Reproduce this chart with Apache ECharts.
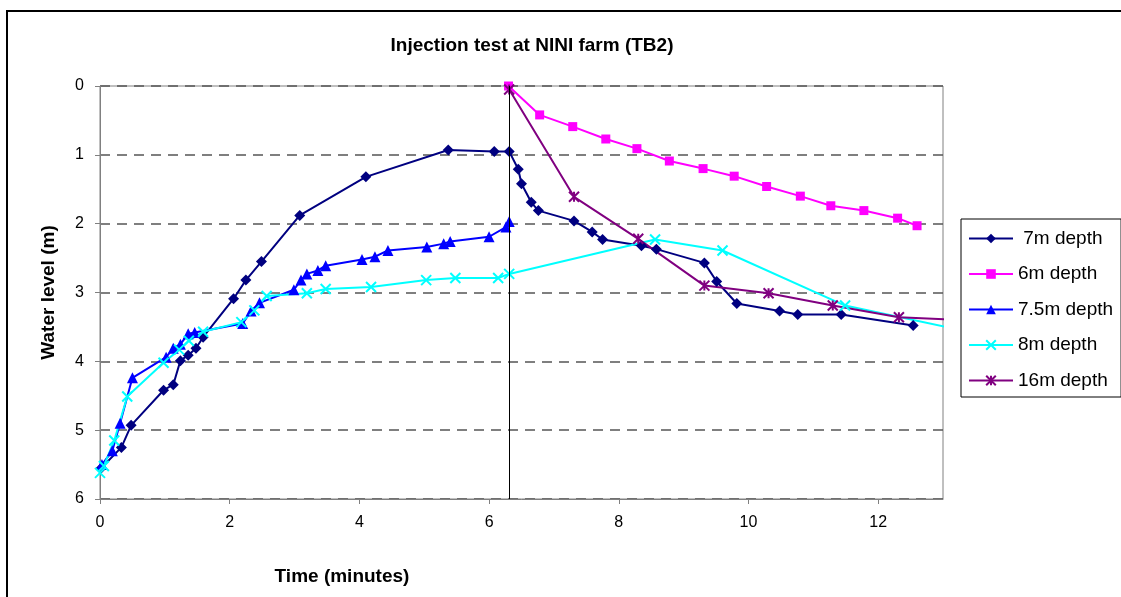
<!DOCTYPE html>
<html>
<head>
<meta charset="utf-8">
<script src="https://cdn.jsdelivr.net/npm/echarts@6/dist/echarts.min.js"></script>
<style>
  html, body { margin: 0; padding: 0; background: #fff; }
  #charts { width: 1121px; height: 597px; }
</style>
</head>
<body>
<div id="charts"></div>
<script>
// time (minutes) and water level (m) for each depth
var t7 = [0.02, 0.33, 0.48, 0.98, 1.13, 1.24, 1.36, 1.48, 1.59, 2.06, 2.25, 2.49, 3.08, 4.10, 5.37, 6.08, 6.31, 6.45, 6.50, 6.65, 6.76, 7.31, 7.59, 7.75, 8.35, 8.58, 9.32, 9.51, 9.82, 10.48, 10.76, 11.43, 12.54];
var v7 = [5.55, 5.25, 4.93, 4.42, 4.34, 3.99, 3.91, 3.81, 3.65, 3.09, 2.82, 2.55, 1.88, 1.32, 0.93, 0.95, 0.95, 1.21, 1.42, 1.69, 1.81, 1.96, 2.12, 2.23, 2.32, 2.37, 2.57, 2.84, 3.16, 3.27, 3.32, 3.32, 3.48];

var t6 = [6.30, 6.78, 7.29, 7.80, 8.28, 8.78, 9.30, 9.78, 10.28, 10.80, 11.27, 11.78, 12.30, 12.60];
var v6 = [0, 0.42, 0.59, 0.77, 0.91, 1.09, 1.20, 1.31, 1.46, 1.60, 1.74, 1.81, 1.92, 2.03];

var t75 = [0.03, 0.19, 0.31, 0.50, 1.02, 1.13, 1.24, 1.36, 1.46, 2.20, 2.33, 2.46, 2.99, 3.10, 3.19, 3.36, 3.48, 4.04, 4.24, 4.44, 5.04, 5.30, 5.40, 6.00, 6.26, 6.31];
var v75 = [5.50, 5.30, 4.90, 4.24, 3.94, 3.81, 3.75, 3.60, 3.58, 3.45, 3.27, 3.15, 2.96, 2.82, 2.73, 2.68, 2.61, 2.52, 2.48, 2.39, 2.34, 2.29, 2.26, 2.19, 2.05, 1.97];

var t8 = [0, 0.06, 0.22, 0.42, 0.98, 1.22, 1.37, 1.59, 2.18, 2.38, 2.57, 3.19, 3.48, 4.18, 5.03, 5.48, 6.14, 6.31, 8.56, 9.60, 11.49, 13.6];
var v8 = [5.62, 5.52, 5.15, 4.51, 4.02, 3.83, 3.70, 3.57, 3.43, 3.26, 3.05, 3.01, 2.95, 2.92, 2.82, 2.79, 2.79, 2.73, 2.23, 2.39, 3.19, 3.61];

var t16 = [6.31, 7.31, 8.30, 9.32, 10.31, 11.30, 12.32, 13.3];
var v16 = [0.05, 1.61, 2.22, 2.90, 3.01, 3.19, 3.36, 3.40];

var injectionStop = 6.31;

function pairs(t, v) {
    return t.map(function (x, i) { return [x, v[i]]; });
}

var font = 'Liberation Sans, Arial, sans-serif';
var crossPath = 'path://M0,0L10,10M10,0L0,10';
var starPath = 'path://M0,0L10,10M10,0L0,10M5,0L5,10';

var myChart = echarts.init(document.getElementById('charts'), null, {width: 1121, height: 597});

function lineSeries(name, data, color, symbol, size, stroke) {
    return {
        name: name,
        type: 'line',
        data: data,
        symbol: symbol,
        symbolSize: size,
        showAllSymbol: true,
        clip: true,
        lineStyle: { color: color, width: 2 },
        itemStyle: stroke
            ? { color: color, borderColor: color, borderWidth: 2 }
            : { color: color },
        emphasis: { disabled: true }
    };
}

var s7 = lineSeries('7m depth', pairs(t7, v7), '#000080', 'diamond', 11, false);
s7.markLine = {
    silent: true,
    symbol: 'none',
    label: { show: false },
    lineStyle: { color: '#000', type: 'solid', width: 1 },
    data: [{ xAxis: injectionStop }]
};

var option = {
    animation: false,
    textStyle: { fontFamily: font },
    grid: {
        left: 100, top: 86, width: 843, height: 413,
        show: true, borderColor: '#808080', borderWidth: 1
    },
    xAxis: {
        type: 'value',
        min: 0, max: 13, interval: 2,
        axisLine: { onZero: false, lineStyle: { color: '#808080', width: 1 } },
        axisTick: { show: true, length: 5, lineStyle: { color: '#808080' } },
        axisLabel: { color: '#000', fontSize: 16, margin: 16, showMaxLabel: false },
        splitLine: { show: false }
    },
    yAxis: {
        type: 'value',
        inverse: true,
        min: 0, max: 6, interval: 1,
        name: 'Water level (m)',
        nameLocation: 'middle',
        nameGap: 42,
        nameTextStyle: { color: '#000', fontSize: 19, fontWeight: 'bold' },
        axisLine: { show: true, lineStyle: { color: '#808080', width: 1 } },
        axisTick: { show: true, length: 5, lineStyle: { color: '#808080' } },
        axisLabel: { color: '#000', fontSize: 16, margin: 16 },
        splitLine: { show: true, lineStyle: { color: '#555', type: [10, 7], width: 1.5 } }
    },
    legend: {
        orient: 'vertical',
        left: 961, top: 219,
        padding: [10, 8, 7, 7],
        itemWidth: 44, itemHeight: 12,
        itemGap: 16.5,
        borderColor: '#000', borderWidth: 1,
        textStyle: { color: '#000', fontSize: 19, fontFamily: font },
        formatter: function (name) { return name === '7m depth' ? ' ' + name : name; },
        data: ['7m depth', '6m depth', '7.5m depth', '8m depth', '16m depth']
    },
    graphic: [
        { type: 'rect', shape: { x: 7, y: 11, width: 1300, height: 800 },
          style: { fill: 'none', stroke: '#000', lineWidth: 2 }, silent: true },
        { type: 'text', x: 532, y: 46,
          style: { text: 'Injection test at NINI farm (TB2)', fill: '#000',
                   font: 'bold 19px ' + font, textAlign: 'center', textVerticalAlign: 'middle' } },
        { type: 'text', x: 342, y: 577,
          style: { text: 'Time (minutes)', fill: '#000',
                   font: 'bold 19px ' + font, textAlign: 'center', textVerticalAlign: 'middle' } }
    ],
    series: [
        s7,
        lineSeries('6m depth', pairs(t6, v6), '#FF00FF', 'rect', 9, false),
        lineSeries('7.5m depth', pairs(t75, v75), '#0000FF', 'triangle', 11, false),
        lineSeries('8m depth', pairs(t8, v8), '#00FFFF', crossPath, 10, true),
        lineSeries('16m depth', pairs(t16, v16), '#800080', starPath, 10, true)
    ]
};

myChart.setOption(option);
</script>
</body>
</html>
